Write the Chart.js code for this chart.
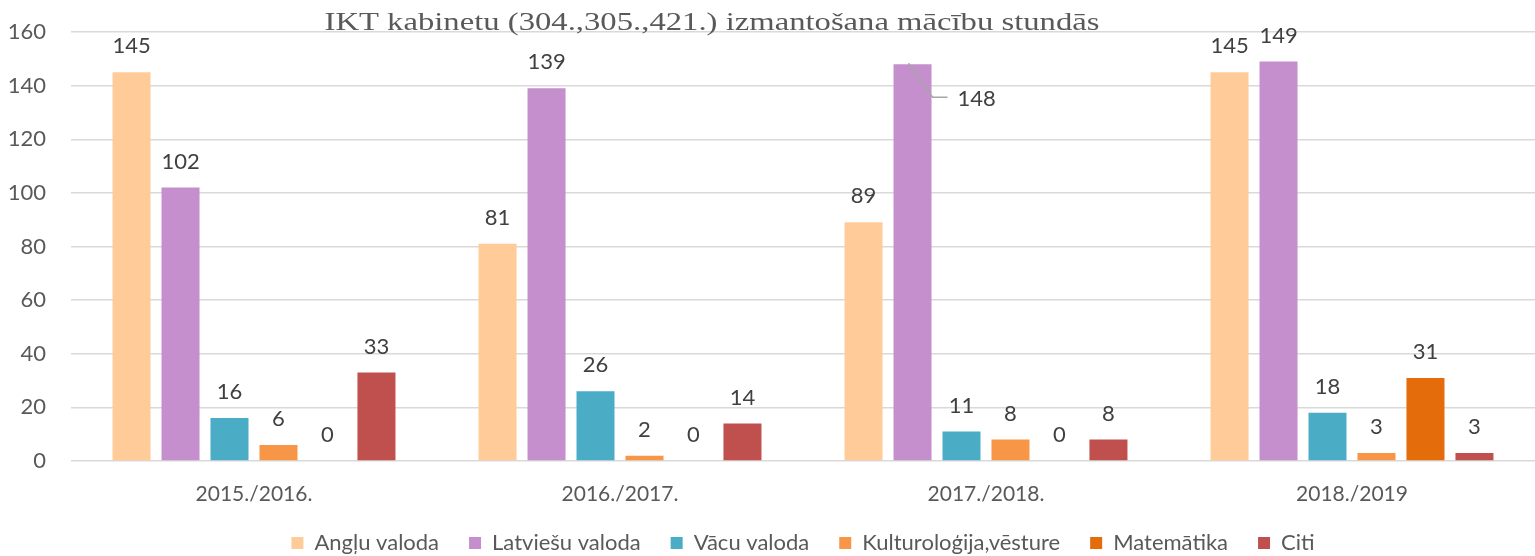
<!DOCTYPE html>
<html>
<head>
<meta charset="utf-8">
<script src="https://cdn.jsdelivr.net/npm/chart.js@4"></script>
<style>
html,body{margin:0;padding:0;background:#fff;}
#wrap{position:relative;width:1535px;height:556px;overflow:hidden;}
</style>
</head>
<body>
<div id="wrap"><canvas id="c"></canvas></div>
<script>
const categories = ["2015./2016.", "2016./2017.", "2017./2018.", "2018./2019"];
const seriesNames = ["Angļu valoda", "Latviešu valoda", "Vācu valoda", "Kulturoloģija,vēsture", "Matemātika", "Citi"];
const anglu = [145, 81, 89, 145];
const latviesu = [102, 139, 148, 149];
const vacu = [16, 26, 11, 18];
const kulturologija = [6, 2, 8, 3];
const matematika = [0, 0, 0, 31];
const citi = [33, 14, 8, 3];
const yTicks = [0, 20, 40, 60, 80, 100, 120, 140, 160];
const titleText = "IKT kabinetu (304.,305.,421.) izmantošana mācību stundās";

const colors = ["#FFCC99", "#C48FCC", "#4BACC6", "#F79646", "#E46C0A", "#C0504D"];
const values = [anglu, latviesu, vacu, kulturologija, matematika, citi];

const FONT = "Lato, 'Open Sans', sans-serif";
const TEXT = "#595959";

const dataLabelPlugin = {
  id: 'dataLabels',
  afterDatasetsDraw(chart) {
    const ctx = chart.ctx;
    ctx.save();
    ctx.font = "22px " + FONT;
    ctx.fillStyle = "#404040";
    ctx.textAlign = "center";
    ctx.textBaseline = "middle";
    chart.data.datasets.forEach((ds, di) => {
      const meta = chart.getDatasetMeta(di);
      meta.data.forEach((el, i) => {
        const txt = String(ds.data[i]);
        if (di === 1 && i === 2) {
          // callout label placed to the right with a leader line
          ctx.save();
          ctx.strokeStyle = "#A6A6A6";
          ctx.lineWidth = 1.5;
          ctx.beginPath();
          ctx.moveTo(el.x - 4, el.y - 1);
          ctx.lineTo(el.x + 20, el.y + 33);
          ctx.lineTo(el.x + 35, el.y + 33);
          ctx.stroke();
          ctx.restore();
          ctx.textAlign = "left";
          ctx.fillText(txt, el.x + 45, el.y + 35);
          ctx.textAlign = "center";
        } else {
          ctx.fillText(txt, el.x, el.y - 26);
        }
      });
    });
    ctx.restore();
  }
};

const titlePlugin = {
  id: 'overTitle',
  afterDraw(chart) {
    const ctx = chart.ctx;
    ctx.save();
    ctx.font = "25px 'Liberation Serif', 'Times New Roman', serif";
    ctx.fillStyle = TEXT;
    ctx.textAlign = "center";
    ctx.textBaseline = "alphabetic";
    const w = ctx.measureText(titleText).width;
    const sx = 775 / w;
    ctx.translate(712, 30);
    ctx.scale(sx, 1);
    ctx.fillText(titleText, 0, 0);
    ctx.restore();
  }
};

new Chart(document.getElementById('c'), {
  type: 'bar',
  data: {
    labels: categories,
    datasets: seriesNames.map((n, i) => ({
      label: n,
      data: values[i],
      backgroundColor: colors[i],
      borderWidth: 0,
      categoryPercentage: 0.803,
      barPercentage: 0.776
    }))
  },
  options: {
    responsive: true,
    maintainAspectRatio: false,
    animation: false,
    layout: { padding: { top: 32, right: 0, left: 0, bottom: -8 } },
    plugins: {
      title: { display: false },
      tooltip: { enabled: false },
      legend: {
        position: 'bottom',
        fullSize: false,
        labels: {
          font: { size: 22, family: FONT },
          color: TEXT,
          boxWidth: 12,
          boxHeight: 12,
          padding: 30
        }
      }
    },
    scales: {
      x: {
        grid: { display: false, drawTicks: false },
        border: { display: false },
        ticks: { font: { size: 21, family: FONT }, color: TEXT, padding: 21 },
        afterFit(s) { s.height = 41; }
      },
      y: {
        min: 0, max: 160,
        afterBuildTicks(s) { s.ticks = yTicks.map(v => ({ value: v })); },
        grid: { color: "#D9D9D9", lineWidth: 1.5, drawTicks: true, tickLength: 25, tickColor: "rgba(0,0,0,0)" },
        border: { display: false },
        ticks: { font: { size: 22, family: FONT }, color: TEXT, padding: 0 },
        afterFit(s) { s.width = 71; }
      }
    }
  },
  plugins: [dataLabelPlugin, titlePlugin]
});
</script>
</body>
</html>
